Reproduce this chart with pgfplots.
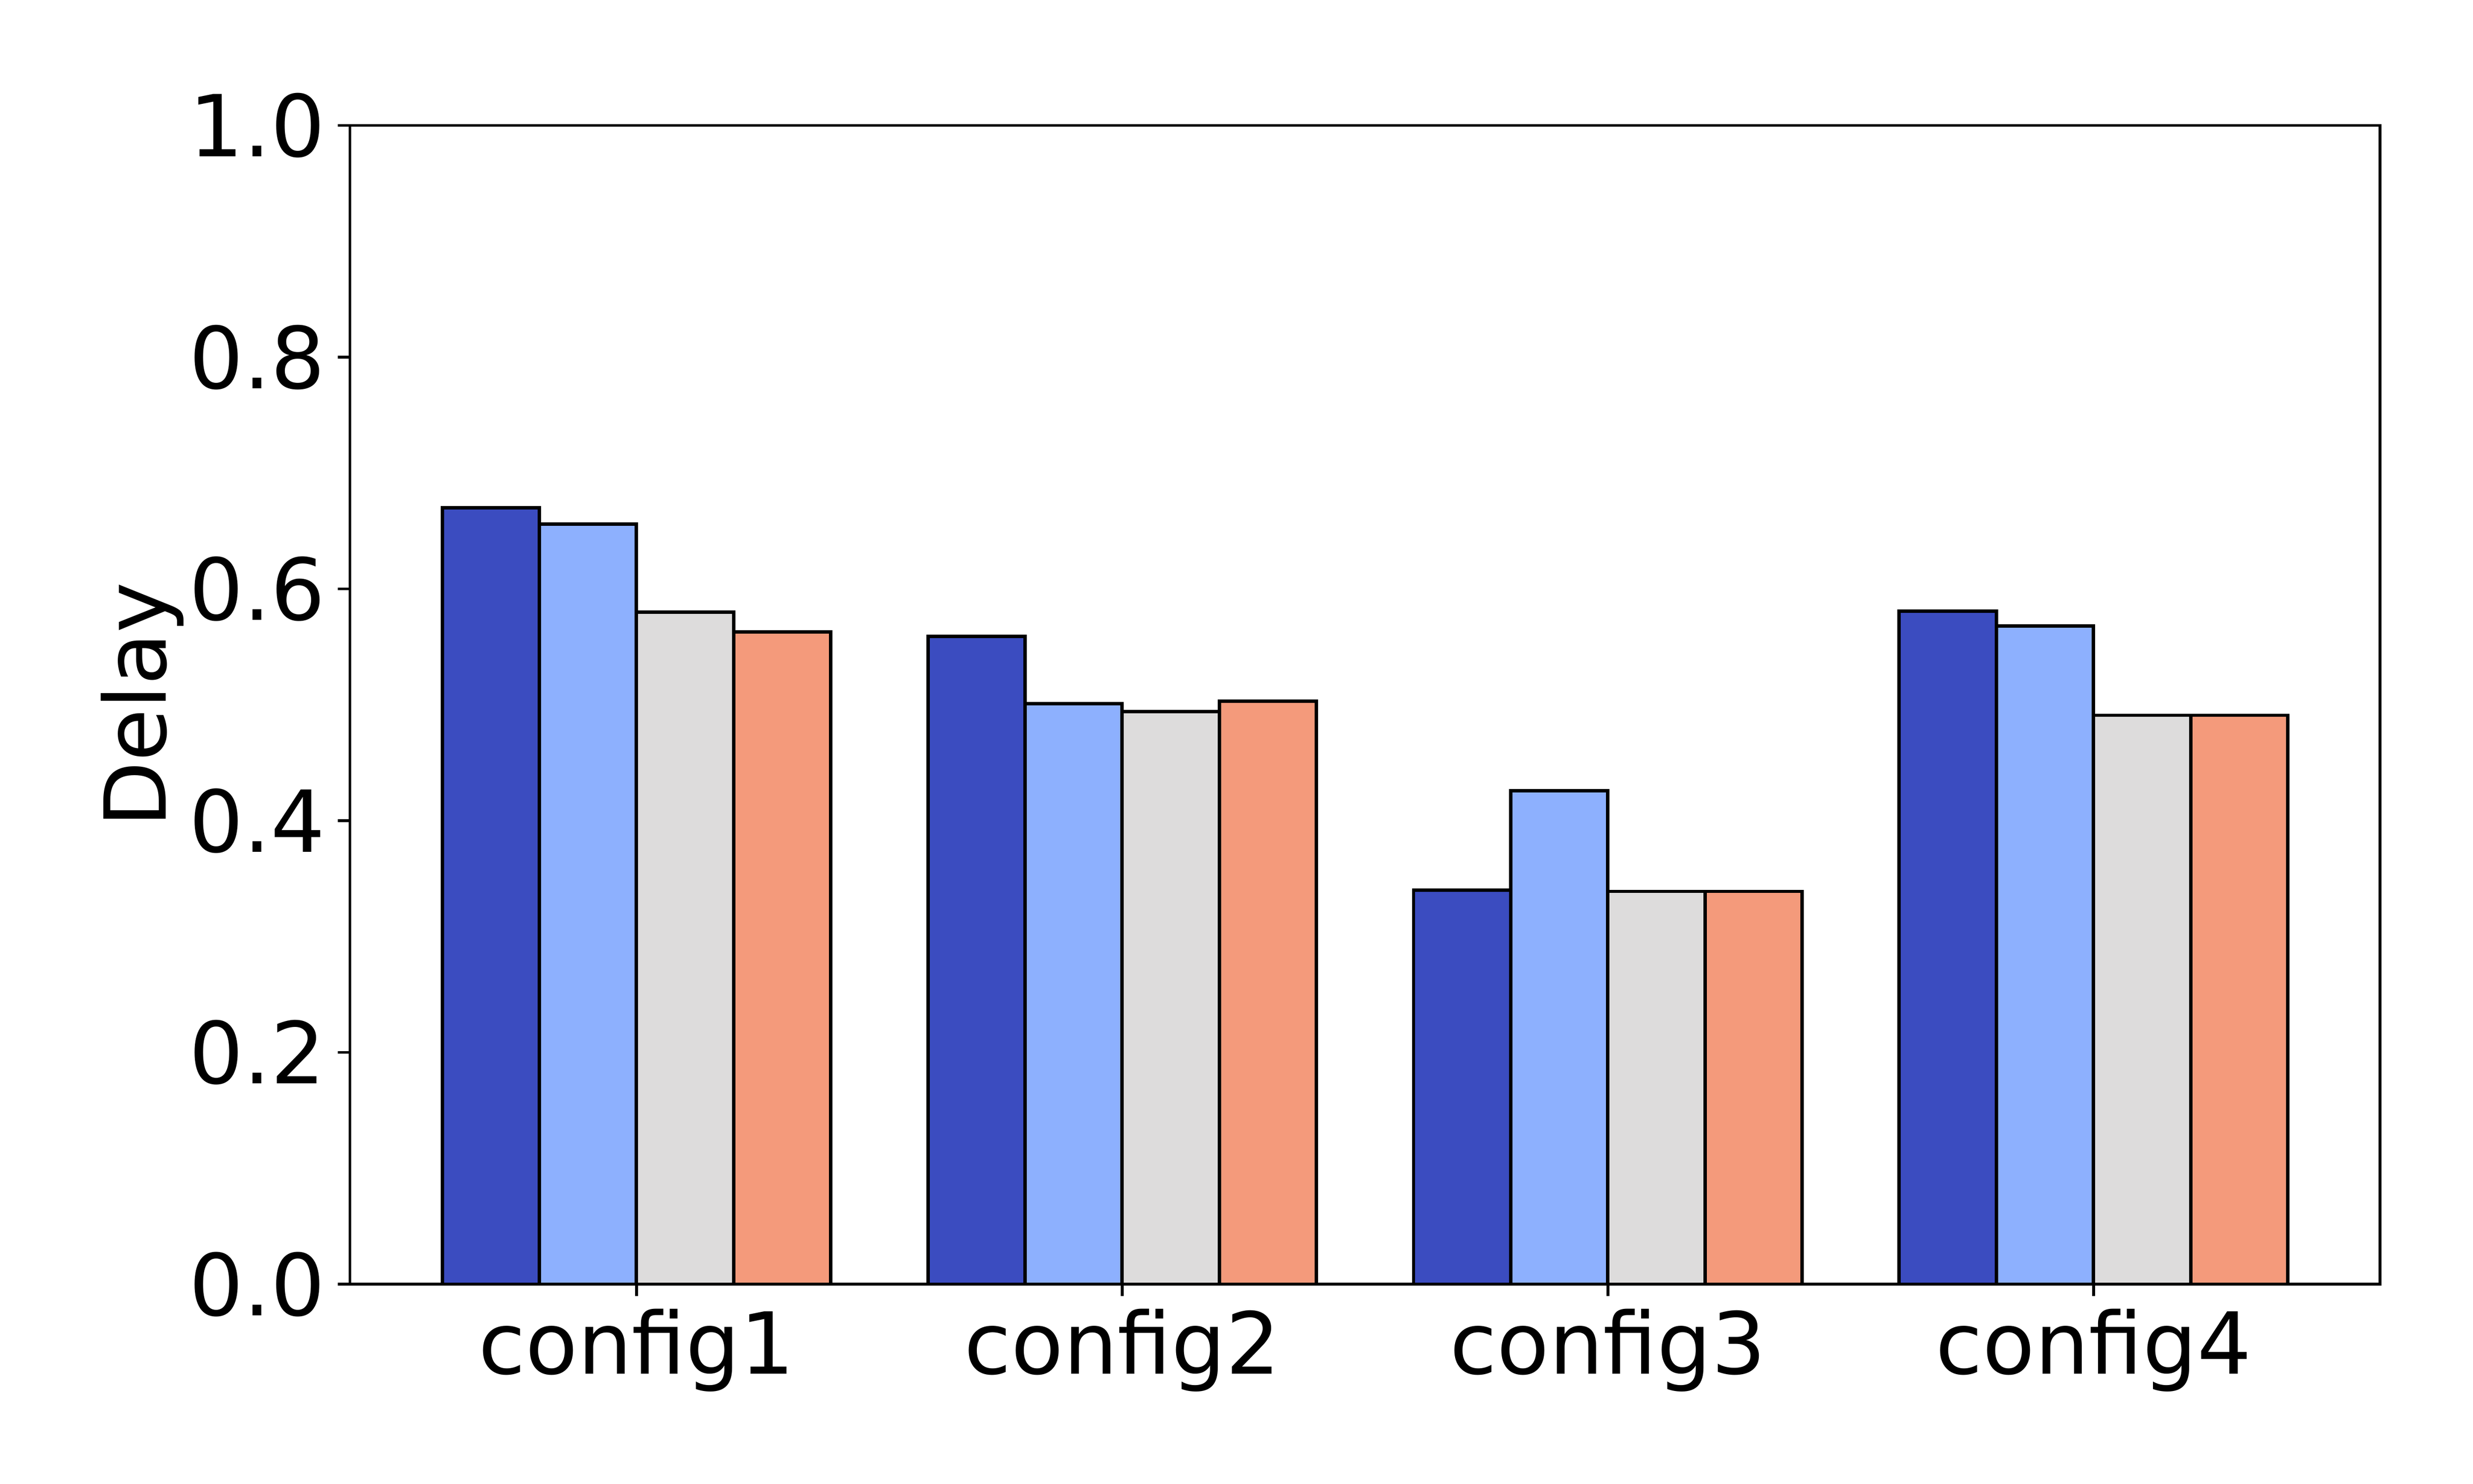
\documentclass[border=0pt]{standalone}
\usepackage{fontspec}
\setmainfont{DejaVu Sans}
\usepackage{pgfplots}
\pgfplotsset{compat=1.18}
\definecolor{cA}{HTML}{3B4CC0}
\definecolor{cB}{HTML}{8DB0FE}
\definecolor{cC}{HTML}{DDDCDC}
\definecolor{cD}{HTML}{F49A7B}
\begin{document}
\begin{tikzpicture}
\path[use as bounding box] (0,0) rectangle (722.7pt,433.62pt);
\begin{axis}[
  at={(102.27pt,58.38pt)}, anchor=south west,
  scale only axis, width=593.26pt, height=338.57pt,
  xmin=-0.59, xmax=3.59, ymin=0, ymax=1,
  ybar, bar width=0.2,
  xtick={0,1,2,3}, xticklabels={config1,config2,config3,config4},
  ytick={0,0.2,0.4,0.6,0.8,1.0},
  tick align=outside, tick pos=left, major tick length=3.5pt,
  every tick/.style={black, line width=0.8pt},
  axis line style={line width=0.8pt},
  /pgf/number format/assume math mode=true,
  yticklabel style={/pgf/number format/fixed, /pgf/number format/fixed zerofill, /pgf/number format/precision=1},
  tick label style={font=\fontsize{25}{30}\selectfont, inner sep=0pt},
  xticklabel style={anchor=north, yshift=-3.5pt},
  yticklabel style={anchor=east, xshift=-3.5pt},
  ylabel={Delay},
  every axis y label/.style={at={(axis description cs:-0.0907,0.5)}, rotate=90, anchor=base, inner sep=0pt, font=\fontsize{25}{30}\selectfont},
]
\addplot[bar shift=-0.3, fill=cA, draw=black, line width=1pt] coordinates {(0,0.670) (1,0.559) (2,0.340) (3,0.581)};
\addplot[bar shift=-0.1, fill=cB, draw=black, line width=1pt] coordinates {(0,0.656) (1,0.501) (2,0.426) (3,0.568)};
\addplot[bar shift=0.1, fill=cC, draw=black, line width=1pt] coordinates {(0,0.580) (1,0.494) (2,0.339) (3,0.491)};
\addplot[bar shift=0.3, fill=cD, draw=black, line width=1pt] coordinates {(0,0.563) (1,0.503) (2,0.339) (3,0.491)};
\end{axis}
\end{tikzpicture}
\end{document}
